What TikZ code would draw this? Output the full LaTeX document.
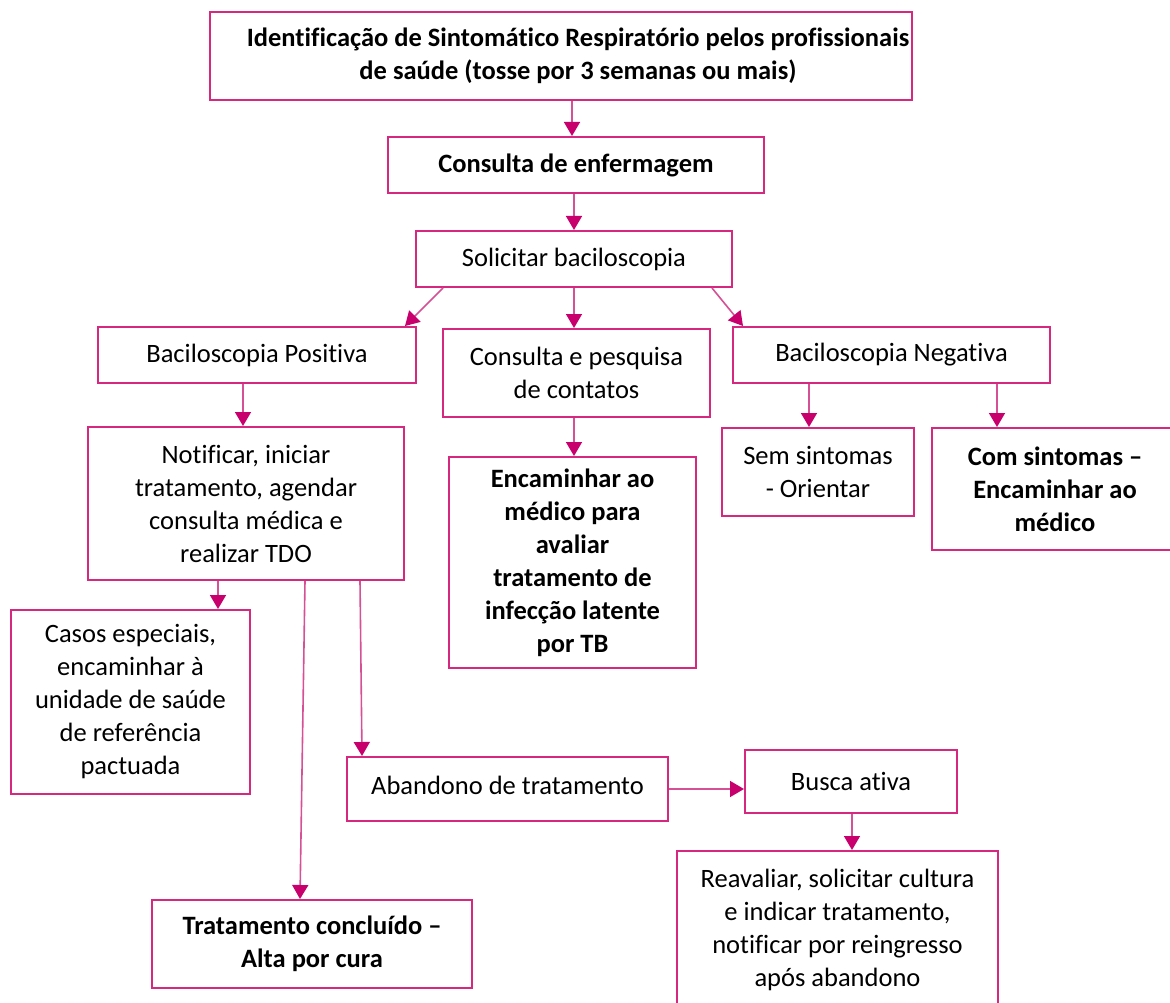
\documentclass[tikz,border=0pt]{standalone}
\usepackage{fontspec}
\setmainfont{Carlito}[Ligatures={NoCommon}]
\usetikzlibrary{arrows.meta}
\definecolor{boxcol}{RGB}{214,40,128}
\definecolor{tipcol}{RGB}{200,0,110}
\definecolor{linecol}{RGB}{214,80,150}
\tikzset{
  box/.style={draw=boxcol, line width=2pt, align=center, inner sep=0pt,
    font=\fontsize{26.5}{33}\selectfont, text=black},
  bbox/.style={box, font=\fontsize{26.5}{33}\selectfont\bfseries},
  arr/.style={draw=linecol, line width=1.6pt,
    -{Triangle[length=14pt,width=16pt,color=tipcol]}}
}
\begin{document}
\begin{tikzpicture}[x=1pt,y=-1pt]
\useasboundingbox (0,0) rectangle (1170,1003);
\node[bbox, minimum width=702pt, minimum height=88pt] (top) at (561,56)
  {\hspace*{34pt}Identificação de Sintomático Respiratório pelos profissionais\\\hspace*{34pt}de saúde (tosse por 3 semanas ou mais)};
\node[bbox, minimum width=376pt, minimum height=56pt] (cons) at (576,165) {Consulta de enfermagem};
\node[box, minimum width=316pt, minimum height=56pt] (sol) at (574,259) {Solicitar baciloscopia};
\node[box, minimum width=318pt, minimum height=56pt] (pos) at (257,355) {Baciloscopia Positiva};
\node[box, minimum width=267pt, minimum height=88pt] (cont) at (576.5,373) {Consulta e pesquisa\\de contatos};
\node[box, minimum width=317pt, minimum height=56pt] (neg) at (891.5,355) {Baciloscopia Negativa};
\node[box, minimum width=316pt, minimum height=153pt] (notif) at (246,503.5)
  {Notificar, iniciar\\tratamento, agendar\\consulta médica e\\realizar TDO};
\node[bbox, minimum width=247pt, minimum height=211pt] (enc) at (572.5,562.5)
  {Encaminhar ao\\médico para\\avaliar\\tratamento de\\infecção latente\\por TB};
\node[box, minimum width=192pt, minimum height=88pt] (sem) at (818,472) {Sem sintomas\\- Orientar};
\node[bbox, minimum width=246pt, minimum height=122pt] (com) at (1055,489)
  {Com sintomas –\\Encaminhar ao\\médico};
\node[box, minimum width=239pt, minimum height=184pt] (casos) at (130.5,702)
  {Casos especiais,\\encaminhar à\\unidade de saúde\\de referência\\pactuada};
\node[box, minimum width=321pt, minimum height=64pt] (aband) at (507.5,789) {Abandono de tratamento\rule[-8pt]{0pt}{1pt}};
\node[box, minimum width=212pt, minimum height=63pt] (busca) at (851,781.5) {Busca ativa};
\node[box, minimum width=321pt, minimum height=158pt] (reav) at (837.5,930)
  {Reavaliar, solicitar cultura\\e indicar tratamento,\\notificar por reingresso\\após abandono};
\node[bbox, minimum width=320pt, minimum height=88pt] (trat) at (312,944)
  {Tratamento concluído –\\Alta por cura};

\draw[arr] (572,0 |- top.south) -- (572,0 |- cons.north);
\draw[arr] (574,0 |- cons.south) -- (574,0 |- sol.north);
\draw[arr] (443,0 |- sol.south) -- (405,0 |- pos.north);
\draw[arr] (574,0 |- sol.south) -- (574,0 |- cont.north);
\draw[arr] (712,0 |- sol.south) -- (743,0 |- neg.north);
\draw[arr] (243,0 |- pos.south) -- (243,0 |- notif.north);
\draw[arr] (574,0 |- cont.south) -- (574,0 |- enc.north);
\draw[arr] (809,0 |- neg.south) -- (809,0 |- sem.north);
\draw[arr] (997,0 |- neg.south) -- (997,0 |- com.north);
\draw[arr] (218,0 |- notif.south) -- (218,0 |- casos.north);
\draw[arr] (305,0 |- notif.south) -- (300,0 |- trat.north);
\draw[arr] (360,0 |- notif.south) -- (362,0 |- aband.north);
\draw[arr] (aband.east) -- (busca.west |- aband.east);
\draw[arr] (852,0 |- busca.south) -- (852,0 |- reav.north);
\end{tikzpicture}
\end{document}
